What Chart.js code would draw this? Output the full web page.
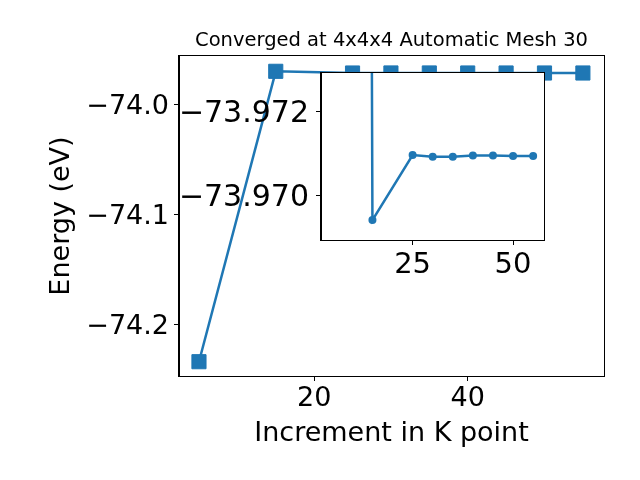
<!DOCTYPE html>
<html>
<head>
<meta charset="utf-8">
<script src="https://cdn.jsdelivr.net/npm/chart.js@4"></script>
<style>
  html, body { margin: 0; padding: 0; background: #fff; }
  #wrap { position: relative; width: 640px; height: 480px; overflow: hidden; }
  #main { position: absolute; left: 0; top: 0; }
  #inset { position: absolute; left: 170px; top: 60px; }
</style>
</head>
<body>
<div id="wrap">
  <canvas id="main" width="640" height="480"></canvas>
  <canvas id="inset" width="390" height="230"></canvas>
</div>
<script>
// K point convergence data
const kPoints = [5, 15, 25, 30, 35, 40, 45, 50, 55];
const energies = [-74.2334, -73.96942, -73.97097, -73.97093, -73.97093, -73.97096, -73.97096, -73.97095, -73.97095];

const mainXTicks = [20, 40];
const mainYTicks = [-74.2, -74.1, -74.0];
const insetXTicks = [25, 50];
const insetYTicks = [-73.972, -73.970];

const BLUE = '#1f77b4';
const FONT = 'DejaVu Sans';

const minus = (s) => s.replace('-', '\u2212');
const points = kPoints.map((k, i) => ({ x: k, y: energies[i] }));

// white plot background + black box frame (matplotlib spines)
const framePlugin = {
  id: 'frame',
  beforeDraw(chart, args, opts) {
    const { ctx, chartArea: a } = chart;
    ctx.save();
    ctx.fillStyle = '#fff';
    if (opts.fillCanvas) ctx.fillRect(0, 0, chart.width, chart.height);
    else ctx.fillRect(a.left, a.top, a.right - a.left, a.bottom - a.top);
    ctx.restore();
  },
  afterDraw(chart) {
    const { ctx, chartArea: a } = chart;
    ctx.save();
    ctx.strokeStyle = '#000';
    ctx.lineWidth = 1;
    const l = Math.round(a.left) - 0.5, t = Math.round(a.top) - 0.5;
    const r = Math.round(a.right) + 0.5, b = Math.round(a.bottom) + 0.5;
    ctx.strokeRect(l, t, r - l, b - t);
    ctx.restore();
  }
};

function axis(opts) {
  return {
    type: 'linear',
    min: opts.min,
    max: opts.max,
    reverse: !!opts.reverse,
    afterBuildTicks: (s) => { s.ticks = opts.ticks.map(v => ({ value: v })); },
    afterFit: (s) => {
      if (opts.width !== undefined) s.width = opts.width;
      if (opts.height !== undefined) s.height = opts.height;
      // let layout padding alone decide where the plot box sits
      s.paddingTop = 0; s.paddingBottom = 0; s.paddingLeft = 0; s.paddingRight = 0;
    },
    grid: { drawOnChartArea: false, drawTicks: true, tickLength: 5, tickColor: '#000', tickWidth: 1 },
    border: { display: true, color: '#000', width: 1 },
    ticks: {
      color: '#000',
      padding: opts.pad,
      labelOffset: opts.shift || 0,
      font: { family: FONT, size: opts.size },
      callback: (v) => minus(v.toFixed(opts.dec))
    },
    title: opts.title ? {
      display: true, text: opts.title, color: '#000',
      font: { family: FONT, size: 27 }, padding: opts.titlePad
    } : { display: false }
  };
}

new Chart(document.getElementById('main'), {
  type: 'line',
  data: {
    datasets: [{
      data: points,
      borderColor: BLUE,
      backgroundColor: BLUE,
      borderWidth: 2.5,
      pointStyle: 'rect',
      pointRadius: 10,
      pointBorderWidth: 1,
      pointBorderColor: BLUE,
      pointBackgroundColor: BLUE,
      tension: 0
    }]
  },
  options: {
    responsive: false,
    animation: false,
    layout: { padding: { left: 0, right: 36, top: 0, bottom: 0 } },
    scales: {
      x: axis({ min: 2.4, max: 57.75, ticks: mainXTicks, dec: 0, size: 27, pad: 2, height: 104,
                title: 'Increment in K point', titlePad: { top: 0, bottom: 30 } }),
      y: axis({ min: -74.2464, max: -73.9555, ticks: mainYTicks, dec: 1, size: 27, pad: 5, width: 179, shift: 2,
                title: 'Energy (eV)', titlePad: { top: 46, bottom: 0 } })
    },
    plugins: {
      legend: { display: false },
      tooltip: { enabled: false },
      frame: { fillCanvas: true },
      title: {
        display: true,
        text: 'Converged at 4x4x4 Automatic Mesh 30',
        color: '#000',
        fullSize: false,
        font: { family: FONT, size: 19.5, weight: 'normal' },
        padding: { top: 29.5, bottom: 3.1 }
      }
    }
  },
  plugins: [framePlugin]
});

new Chart(document.getElementById('inset'), {
  type: 'line',
  data: {
    datasets: [{
      data: points,
      borderColor: BLUE,
      backgroundColor: BLUE,
      borderWidth: 2.5,
      pointStyle: 'circle',
      pointRadius: 4,
      pointBorderWidth: 0,
      pointBackgroundColor: BLUE,
      tension: 0
    }]
  },
  options: {
    responsive: false,
    animation: false,
    layout: { padding: { left: 0, right: 16, top: 13, bottom: 0 } },
    scales: {
      x: axis({ min: 2.2, max: 57.7, ticks: insetXTicks, dec: 0, size: 29, pad: 3, height: 50 }),
      y: axis({ min: -73.972929, max: -73.968945, reverse: true, ticks: insetYTicks, dec: 3, size: 30, pad: 7, width: 151, shift: 2 })
    },
    plugins: {
      legend: { display: false },
      tooltip: { enabled: false },
      frame: { fillCanvas: false }
    }
  },
  plugins: [framePlugin]
});
</script>
</body>
</html>
